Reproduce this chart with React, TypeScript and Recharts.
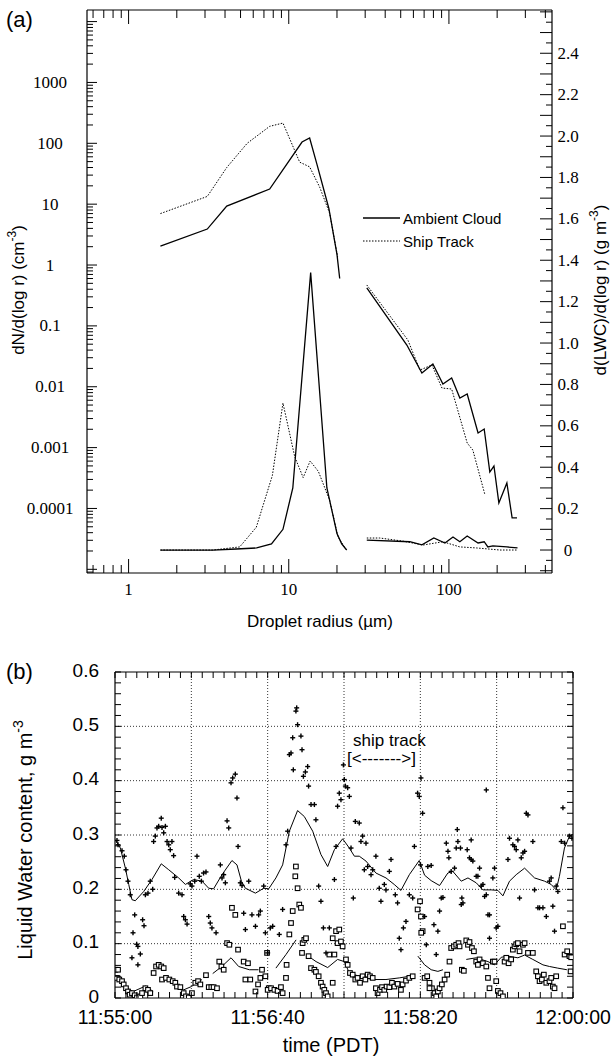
import React from 'react';
import { ComposedChart, Line, Scatter, XAxis, YAxis, ReferenceLine } from 'recharts';

const SERIF = '"Liberation Serif", "Times New Roman", "DejaVu Serif", serif';
const SANS = '"Liberation Sans", Arial, Helvetica, sans-serif';

// ---------- Panel (a): droplet radius (µm) ----------
// number distributions dN/d(log r) (cm^-3), left log axis
const ambientN: [number, number][] = [
  [1.58, 2.05], [3.1, 3.9], [4.1, 9.3], [7.6, 17.7], [12.1, 105], [13.5, 122],
  [15.0, 45], [17.8, 8.5], [20.0, 1.5], [20.8, 0.6],
];
const shipN: [number, number][] = [
  [1.58, 7.0], [3.1, 13.4], [4.1, 40], [5.5, 100], [7.6, 190], [9.2, 215],
  [11.7, 49], [13.5, 41], [15.6, 19], [18.0, 7.1], [20.2, 1.35],
];
const ambientDrizzleN: [number, number][] = [
  [30.7, 0.42], [54.6, 0.0485], [67.8, 0.0168], [79.4, 0.0236], [91.7, 0.0111],
  [104, 0.0139], [117, 0.00653], [130, 0.0076], [152, 0.00174], [166, 0.00202],
  [180, 0.000397], [191, 0.000498], [205, 0.000123], [230, 0.000262], [248, 0.00007], [266, 0.00007],
];
const shipDrizzleN: [number, number][] = [
  [30.7, 0.47], [55.4, 0.0586], [65.9, 0.0188], [78.3, 0.0228], [90.4, 0.00953],
  [104, 0.00918], [130, 0.00119], [141, 0.000912], [168, 0.000166],
];
// liquid water distributions d(LWC)/d(log r) (g m^-3), right linear axis
const ambientLWC: [number, number][] = [
  [1.58, 0], [3.35, 0], [4.7, 0.005], [6.3, 0.01], [7.8, 0.03], [9.2, 0.1], [10.6, 0.3],
  [13.7, 1.34], [17.3, 0.3], [18.6, 0.19], [20.0, 0.08], [21.4, 0.03], [23.0, 0],
];
const shipLWC: [number, number][] = [
  [1.58, 0], [3.35, 0], [4.94, 0.015], [6.27, 0.11], [7.9, 0.36], [9.2, 0.71], [10.9, 0.45],
  [12.3, 0.35], [13.6, 0.43], [15.3, 0.38], [18.0, 0.24], [20.3, 0.064], [22.9, 0],
];
const ambientDrizzleLWC: [number, number][] = [
  [30.7, 0.048], [57, 0.04], [67.8, 0.025], [80.5, 0.058], [94.4, 0.034], [106, 0.063],
  [117, 0.04], [130, 0.068], [152, 0.034], [166, 0.04], [175, 0.015], [188, 0.02], [230, 0.015], [268, 0.01],
];
const shipDrizzleLWC: [number, number][] = [
  [30.7, 0.058], [37, 0.058], [51.6, 0.043], [68.8, 0.024], [91.7, 0.04], [117, 0.015],
  [149, 0.01], [208, 0], [268, 0],
];

const radiusDomain: [number, number] = [0.55, 440];
const numberDomain: [number, number] = [8.7e-6, 15500];
const lwcDomain: [number, number] = [-0.111, 2.609];

const radiusTicks: number[] = [];
for (let e = -1; e <= 2; e++) for (let m = 1; m <= 9; m++) {
  const v = m * Math.pow(10, e);
  if (v >= radiusDomain[0] && v <= radiusDomain[1]) radiusTicks.push(v);
}
const numberTicks: number[] = [];
for (let e = -6; e <= 4; e++) for (let m = 1; m <= 9; m++) {
  const v = m * Math.pow(10, e);
  if (v >= numberDomain[0] && v <= numberDomain[1]) numberTicks.push(v);
}
const lwcTicks: number[] = Array.from({ length: 55 }, (_, i) => ((i - 2) * 5) / 100);

// ---------- Panel (b): seconds after 11:55:00 vs LWC (g m^-3) ----------
const upperLine: [number, number][] = [
  [0.2, 0.291], [3.5, 0.276], [6.8, 0.239], [9, 0.209], [11.1, 0.181], [13.3, 0.179], [18.8, 0.196],
  [24.2, 0.218], [30.3, 0.247], [35.2, 0.236], [41.7, 0.221], [46.1, 0.209], [51.5, 0.218], [57, 0.215],
  [61.4, 0.202], [64.6, 0.201], [70.1, 0.227], [76.6, 0.253], [79.9, 0.245], [82.8, 0.215], [85.4, 0.202],
  [92, 0.193], [97.4, 0.202], [100.7, 0.201], [105.4, 0.221], [109.8, 0.245], [114.2, 0.307], [119.6, 0.345],
  [124, 0.334], [129.5, 0.307], [134.9, 0.264], [139.3, 0.242], [143.7, 0.273], [149.1, 0.293], [153.5, 0.276],
  [156.8, 0.261], [160, 0.261], [164.4, 0.252], [170.9, 0.23], [177.5, 0.221], [182.9, 0.209], [187.3, 0.198],
  [192.8, 0.227], [199.3, 0.253], [202.8, 0.226], [207.1, 0.216], [212.6, 0.207], [218, 0.23], [221.3, 0.233],
  [226.8, 0.215], [231.2, 0.221], [236.6, 0.212], [241, 0.199], [246.4, 0.199], [250.8, 0.198], [254.1, 0.188],
  [258.4, 0.215], [262.8, 0.227], [268.3, 0.239], [274.8, 0.221], [281.4, 0.215], [285.7, 0.209], [289, 0.199],
  [291.1, 0.224], [294.4, 0.276], [297.7, 0.298], [299.9, 0.301],
];
const lowerSegA: [number, number][] = [[8, 0.018], [12, 0.012], [20, 0.022], [25, 0.012]];
const lowerSegB: [number, number][] = [[37, 0.028], [45, 0.015], [50, 0.021], [57, 0.034]];
const lowerSegC: [number, number][] = [[64, 0.045], [70, 0.058], [76, 0.074], [81, 0.058], [88, 0.052], [94, 0.052]];
const lowerSegD: [number, number][] = [[105.4, 0.055], [112, 0.08], [118.6, 0.107]];
const lowerSegE: [number, number][] = [
  [125.1, 0.08], [131.7, 0.067], [139.3, 0.056], [145.8, 0.071], [150.2, 0.067], [153.5, 0.046],
  [160, 0.04], [168.8, 0.034], [177.5, 0.034], [186.2, 0.037], [192.8, 0.04],
];
const lowerSegF: [number, number][] = [[198.4, 0.077], [202.8, 0.061], [207.1, 0.052], [211.5, 0.049], [214.8, 0.052]];
const lowerSegG: [number, number][] = [
  [230.1, 0.071], [236.6, 0.074], [244.3, 0.067], [248.6, 0.061], [253, 0.075], [257.4, 0.077],
  [263.9, 0.074], [268.3, 0.079], [273.7, 0.071], [280.3, 0.061], [284.6, 0.058], [290, 0.055], [296, 0.052],
];

const crossPoints: [number, number][] = [
  [1.3, 0.29], [2, 0.282], [4.6, 0.271], [6.1, 0.261], [7.2, 0.236], [8.5, 0.215], [10, 0.19], [11.8, 0.12],
  [12.9, 0.153], [14.2, 0.099], [15, 0.095], [11.1, 0.074], [15, 0.061], [16.6, 0.081], [18.1, 0.144], [19, 0.133],
  [19.9, 0.19], [21.6, 0.193], [23.1, 0.215], [24.7, 0.2], [25.3, 0.288], [26.4, 0.298], [27.5, 0.313], [28.6, 0.316],
  [30.3, 0.331], [30.8, 0.314], [31.9, 0.304], [33, 0.316], [34.1, 0.288], [35.2, 0.282], [36.2, 0.273], [37.3, 0.288],
  [38.4, 0.262], [39.1, 0.222], [41.7, 0.193], [43.9, 0.19], [45, 0.15], [46.1, 0.144], [47.2, 0.136], [49.3, 0.21],
  [50.4, 0.206], [52.2, 0.215], [53.7, 0.261], [55.2, 0.224], [56.6, 0.215], [58, 0.23], [59.6, 0.232], [61.4, 0.15],
  [62.4, 0.138], [63.5, 0.129], [66.2, 0.12], [69, 0.245], [70.1, 0.221], [71.2, 0.227], [72.3, 0.212], [73.4, 0.326],
  [74.5, 0.313], [76, 0.396], [77.1, 0.405], [78.8, 0.412], [79.9, 0.368], [80.6, 0.279], [82.1, 0.212], [83.2, 0.207],
  [84.3, 0.156], [85.4, 0.126], [87.6, 0.215], [89.7, 0.153], [92, 0.132], [94.1, 0.153], [95.2, 0.16], [97.4, 0.206],
  [98.5, 0.12], [101.7, 0.129],
  [100, 0.083], [103.3, 0.132], [107.6, 0.117], [109.8, 0.163], [113.1, 0.307], [112, 0.282], [114.2, 0.448],
  [115.3, 0.451], [116.4, 0.479], [116.8, 0.42], [118.5, 0.528], [119, 0.534], [119.6, 0.503], [121.8, 0.482],
  [122.5, 0.457], [123.4, 0.408], [124.7, 0.416], [126.2, 0.426], [126.8, 0.39], [128.4, 0.356], [130.6, 0.356],
  [131.6, 0.328], [133.4, 0.206], [134.9, 0.178], [136.5, 0.129], [138.2, 0.083], [140.4, 0.129], [143.7, 0.218],
  [144.8, 0.279], [145.8, 0.353], [146.9, 0.377], [148, 0.365], [149.6, 0.429], [150.2, 0.402], [150.9, 0.39],
  [152.4, 0.387], [153.5, 0.371], [154.6, 0.276], [156.1, 0.184], [157.4, 0.325], [160, 0.322], [161.1, 0.288],
  [162.2, 0.298], [163.3, 0.236], [164.4, 0.285], [165.5, 0.242], [167.7, 0.227], [168.8, 0.236], [170.9, 0.261],
  [173.1, 0.202], [174.2, 0.178], [176.4, 0.209], [177.5, 0.199], [179.7, 0.233], [180.8, 0.255], [183.6, 0.19],
  [185.1, 0.175], [186.2, 0.11], [187.3, 0.089], [188.9, 0.129], [190.6, 0.141], [192.8, 0.19], [195, 0.184],
  [196.1, 0.279], [198.2, 0.377], [199.3, 0.371], [200.4, 0.405], [201.5, 0.34],
  [200.1, 0.245], [204.9, 0.242], [207.1, 0.244], [202.8, 0.15], [208.9, 0.135], [211.5, 0.123], [212.6, 0.16],
  [213.7, 0.184], [214.8, 0.185], [217, 0.285], [218.1, 0.27], [218.7, 0.258], [220.2, 0.233], [222.4, 0.239],
  [223.5, 0.276], [224.2, 0.31], [224.6, 0.288], [226.3, 0.276], [226.8, 0.172], [227.9, 0.175], [227.2, 0.184],
  [230.7, 0.273], [232.2, 0.258], [233.3, 0.255], [234.4, 0.252], [233.3, 0.291], [236.6, 0.224], [237.7, 0.224],
  [238.8, 0.239], [239.9, 0.206], [241, 0.209], [242.1, 0.187], [243.2, 0.19], [244.3, 0.153], [245.3, 0.153],
  [245.3, 0.11], [247.5, 0.221], [248.6, 0.239], [249.7, 0.129], [250.8, 0.132], [243.2, 0.383], [257.4, 0.255],
  [258.4, 0.294], [260.6, 0.282], [261.7, 0.279], [262.8, 0.273], [263.9, 0.291], [265, 0.184], [266.1, 0.258],
  [267.2, 0.267], [268.3, 0.27], [269.4, 0.34], [270.5, 0.337], [273.7, 0.288], [274.8, 0.199], [277, 0.166],
  [278.1, 0.166], [280.3, 0.166], [282.5, 0.15], [284.6, 0.215], [286.8, 0.169], [287.9, 0.123], [285.7, 0.221],
  [289, 0.206], [290.1, 0.196], [293.4, 0.35], [292.3, 0.288], [294.5, 0.285], [297.7, 0.298], [299.3, 0.294],
  [203.9, 0.098], [210.4, 0.08],
];

const squarePoints: [number, number][] = [
  [0.2, 0.052], [2, 0.052], [1.3, 0.037], [2.8, 0.034], [4.6, 0.031], [5.7, 0.025], [7.2, 0.018], [8.5, 0.012],
  [9.6, 0.006], [11.1, 0.009], [12.9, 0.005], [14.4, 0.001], [16.6, 0.003], [17.7, 0.009], [19.9, 0.018], [21.6, 0.015],
  [23.1, 0.009], [25.3, 0.046], [26.9, 0.058], [28.6, 0.061], [30.3, 0.058], [31.9, 0.055], [30.8, 0.034], [33.4, 0.037],
  [35.6, 0.034], [37.8, 0.031], [39.5, 0.028], [40.6, 0.021], [42.8, 0.02], [45, 0.009], [46.5, 0.003], [48.3, 0.001],
  [50.4, 0.009], [52.6, 0.028], [54.4, 0.031], [55.9, 0.025], [59.6, 0.042], [61.4, 0.02], [63.1, 0.02], [64.6, 0.02],
  [66.8, 0.018], [68.3, 0.067], [69.7, 0.058], [71.2, 0.052], [73.4, 0.101], [74.9, 0.098], [76.6, 0.166], [78.8, 0.153],
  [80.6, 0.089], [84.3, 0.067], [85.4, 0.034], [87.1, 0.064], [88.6, 0.034], [92, 0.012], [93.7, 0.025], [95.2, 0.037],
  [96.3, 0.052], [98.5, 0.04], [99.6, 0.083], [100.7, 0.018],
  [100, 0.015], [102.2, 0.018], [104.4, 0.015], [106.5, 0.013], [108.7, 0.02], [109.8, 0.009], [112, 0.037],
  [112.4, 0.061], [115.3, 0.138], [114.2, 0.117], [116.4, 0.16], [118.5, 0.242], [118.1, 0.224], [119.6, 0.202],
  [120.7, 0.172], [121.8, 0.166], [122.9, 0.101], [124, 0.107], [125.1, 0.11], [122.5, 0.083], [126.8, 0.077],
  [128.4, 0.055], [130.6, 0.052], [131.6, 0.048], [133.4, 0.04], [134.9, 0.028], [136, 0.021], [137.1, 0.015],
  [138.2, 0.009], [139.3, 0.003], [142.6, 0.028], [140.4, 0.08], [143.7, 0.08], [142.6, 0.11], [144.8, 0.123],
  [146.9, 0.126], [145.8, 0.101], [148, 0.104], [149.1, 0.095], [151.3, 0.071], [152.4, 0.061], [153.9, 0.046],
  [155.7, 0.043], [157.4, 0.034], [158.9, 0.037], [160.5, 0.028], [162.2, 0.04], [164, 0.034], [165.5, 0.043],
  [167, 0.04], [168.8, 0.037], [170.9, 0.018], [172, 0.009], [173.6, 0.015], [174.9, 0.02], [176.4, 0.015],
  [177.9, 0.021], [179.7, 0.02], [181.4, 0.028], [183, 0.021], [185.1, 0.026], [187.3, 0.015], [188.4, 0.025],
  [190.6, 0.032], [192.8, 0.037], [195, 0.04], [198.2, 0.163], [199.8, 0.178], [201.5, 0.123], [200.4, 0.15],
  [200.6, 0.12], [219.1, 0.067], [220.2, 0.092], [222, 0.095], [223.5, 0.098], [225, 0.101], [225.7, 0.095],
  [227.2, 0.052], [228.5, 0.05], [230.1, 0.106], [231.2, 0.098], [232.2, 0.103], [233.8, 0.092], [235.1, 0.086],
  [236.6, 0.067], [237.7, 0.061], [238.8, 0.071], [241, 0.064], [243.2, 0.058], [244.3, 0.037], [245.3, 0.018],
  [247.5, 0.067], [248.6, 0.067], [249.7, 0.031], [250.8, 0.013], [252.5, 0.009], [254.1, 0.003], [255.2, 0.067],
  [256.3, 0.074], [257.8, 0.064], [259.5, 0.071], [260.6, 0.089], [261.7, 0.095], [262.8, 0.099], [263.9, 0.101],
  [265, 0.086], [267.2, 0.098], [268.3, 0.101], [270.5, 0.083], [273.7, 0.083], [275.9, 0.049], [277, 0.04],
  [278.1, 0.031], [279.6, 0.034], [280.9, 0.043], [282.5, 0.028], [284.6, 0.031], [285.7, 0.037], [286.8, 0.021],
  [287.9, 0.018], [289, 0.04], [293.4, 0.132], [294.5, 0.08], [296.2, 0.086], [297.7, 0.077], [298.8, 0.075],
  [298.4, 0.049], [202.8, 0.037], [204.5, 0.04], [206, 0.028], [207.6, 0.018], [209.3, 0.009], [210.4, 0.003],
  [211.5, 0.012], [212.6, 0.018], [214.1, 0.025], [215.9, 0.034], [217.6, 0.043], [206, 0.018],
];

const timeTicks: number[] = Array.from({ length: 43 }, (_, i) => (i * 50) / 7);
const lwcTicksB: number[] = Array.from({ length: 31 }, (_, i) => i / 50);
const gridTimes = [50, 100, 150, 200, 250];
const gridLwc = [0.1, 0.2, 0.3, 0.4, 0.5];

// ---------- helpers ----------
const toRN = (a: [number, number][]) => a.map(([r, n]) => ({ r, n }));
const toRW = (a: [number, number][]) => a.map(([r, w]) => ({ r, w }));
const toTV = (a: [number, number][]) => a.map(([t, v]) => ({ t, v }));

const isPow10 = (v: number) => Math.abs(Math.log10(v) - Math.round(Math.log10(v))) < 1e-6;
const pad = (n: number) => (n < 10 ? '0' + n : String(n));
const fmtTime = (t: number) => {
  const total = 11 * 3600 + 55 * 60 + Math.round(t);
  const h = Math.floor(total / 3600);
  const m = Math.floor((total % 3600) / 60);
  const s = total % 60;
  return `${h}:${pad(m)}:${pad(s)}`;
};

const serifStyle = { fontFamily: SERIF, fontSize: 17 };
const sansTick = { fontFamily: SANS, fontSize: 19 };

const XLogTickBottom = (p: any) => {
  const { x, y, payload } = p;
  const v = payload.value;
  const major = isPow10(v);
  return (
    <g>
      <line x1={x} y1={y} x2={x} y2={y - (major ? 14 : 8)} stroke="#000" strokeWidth={1} />
      {major && (
        <text x={x} y={y + 16} textAnchor="middle" dominantBaseline="central" style={serifStyle} fill="#000">
          {String(Math.round(v))}
        </text>
      )}
    </g>
  );
};
const XLogTickTop = (p: any) => {
  const { x, y, payload } = p;
  const major = isPow10(payload.value);
  return <line x1={x} y1={y} x2={x} y2={y + (major ? 14 : 8)} stroke="#000" strokeWidth={1} />;
};
const YLogTick = (p: any) => {
  const { x, y, payload } = p;
  const v = payload.value;
  const major = isPow10(v);
  const e = Math.round(Math.log10(v));
  const showLabel = major && e >= -4 && e <= 3;
  const label = e >= 0 ? String(Math.round(v)) : v.toFixed(-e);
  return (
    <g>
      <line x1={x} y1={y} x2={x + (major ? 10 : 6)} y2={y} stroke="#000" strokeWidth={1} />
      {showLabel && (
        <text x={x - 37} y={y} textAnchor="middle" dominantBaseline="central" style={serifStyle} fill="#000">
          {label}
        </text>
      )}
    </g>
  );
};
const YLwcTick = (p: any) => {
  const { x, y, payload } = p;
  const v = payload.value;
  const i = Math.round(v * 20);
  const long = i % 2 === 0;
  const showLabel = i % 4 === 0 && i >= 0 && i <= 48;
  return (
    <g>
      <line x1={x} y1={y} x2={x - (long ? 12 : 6)} y2={y} stroke="#000" strokeWidth={1} />
      {showLabel && (
        <text x={x + 16} y={y} textAnchor="middle" dominantBaseline="central" style={serifStyle} fill="#000">
          {i === 0 ? '0' : v.toFixed(1)}
        </text>
      )}
    </g>
  );
};

const TimeTickBottom = (p: any) => {
  const { x, y, payload } = p;
  const v = payload.value;
  const lab = Math.abs(v / 100 - Math.round(v / 100)) < 1e-6;
  return (
    <g>
      <line x1={x} y1={y} x2={x} y2={y - 6} stroke="#000" strokeWidth={1} />
      {lab && (
        <text x={x} y={y + 19} textAnchor="middle" dominantBaseline="central" style={{ fontFamily: SANS, fontSize: 19.5 }} fill="#000">
          {fmtTime(v)}
        </text>
      )}
    </g>
  );
};
const TimeTickTop = (p: any) => {
  const { x, y } = p;
  return <line x1={x} y1={y} x2={x} y2={y + 6} stroke="#000" strokeWidth={1} />;
};
const LwcTickLeft = (p: any) => {
  const { x, y, payload } = p;
  const v = payload.value;
  const lab = Math.abs(v * 10 - Math.round(v * 10)) < 1e-6;
  return (
    <g>
      <line x1={x} y1={y} x2={x + 6} y2={y} stroke="#000" strokeWidth={1} />
      {lab && (
        <text x={x - 16} y={y - 2} textAnchor="end" dominantBaseline="central" style={sansTick} fill="#000">
          {Math.round(v * 10) === 0 ? '0' : v.toFixed(1)}
        </text>
      )}
    </g>
  );
};
const LwcTickRight = (p: any) => {
  const { x, y } = p;
  return <line x1={x} y1={y} x2={x - 6} y2={y} stroke="#000" strokeWidth={1} />;
};

const CrossShape = (p: any) => {
  const { cx, cy } = p;
  if (cx == null || cy == null) return <g />;
  return (
    <g>
      <line x1={cx - 2.5} y1={cy} x2={cx + 2.5} y2={cy} stroke="#000" strokeWidth={1.4} />
      <line x1={cx} y1={cy - 2.5} x2={cx} y2={cy + 2.5} stroke="#000" strokeWidth={1.4} />
    </g>
  );
};
const SquareShape = (p: any) => {
  const { cx, cy } = p;
  if (cx == null || cy == null) return <g />;
  return <rect x={cx - 2.3} y={cy - 2.3} width={4.6} height={4.6} fill="#fff" stroke="#000" strokeWidth={1.1} />;
};

const axisCommon = {
  tickSize: 0,
  tickMargin: 0,
  interval: 0 as const,
  axisLine: { stroke: '#000', strokeWidth: 1.2 },
  tickLine: false,
  allowDataOverflow: true,
};

const solid = { stroke: '#000', strokeWidth: 1.3 };
const dotted = { stroke: '#000', strokeWidth: 1, strokeDasharray: '1.5 1.5' };

function PanelA() {
  const lineProps = { type: 'linear' as const, dot: false, activeDot: false, isAnimationActive: false };
  return (
    <ComposedChart width={616} height={640} margin={{ top: 5, right: 24, bottom: 37, left: 37 }}>
      <XAxis xAxisId="b" dataKey="r" type="number" scale="log" domain={radiusDomain} ticks={radiusTicks}
        orientation="bottom" height={30} tick={(p: any) => <XLogTickBottom {...p} />} {...axisCommon} />
      <XAxis xAxisId="t" dataKey="r" type="number" scale="log" domain={radiusDomain} ticks={radiusTicks}
        orientation="top" height={5} tick={(p: any) => <XLogTickTop {...p} />} {...axisCommon} />
      <YAxis yAxisId="n" type="number" scale="log" domain={numberDomain} ticks={numberTicks}
        orientation="left" width={50} tick={(p: any) => <YLogTick {...p} />} {...axisCommon} />
      <YAxis yAxisId="w" type="number" domain={lwcDomain} ticks={lwcTicks}
        orientation="right" width={40} tick={(p: any) => <YLwcTick {...p} />} {...axisCommon} />
      <Line xAxisId="b" yAxisId="n" data={toRN(ambientN)} dataKey="n" {...lineProps} {...solid} />
      <Line xAxisId="b" yAxisId="n" data={toRN(shipN)} dataKey="n" {...lineProps} {...dotted} />
      <Line xAxisId="b" yAxisId="n" data={toRN(ambientDrizzleN)} dataKey="n" {...lineProps} {...solid} />
      <Line xAxisId="b" yAxisId="n" data={toRN(shipDrizzleN)} dataKey="n" {...lineProps} {...dotted} />
      <Line xAxisId="b" yAxisId="w" data={toRW(ambientLWC)} dataKey="w" {...lineProps} {...solid} />
      <Line xAxisId="b" yAxisId="w" data={toRW(shipLWC)} dataKey="w" {...lineProps} {...dotted} />
      <Line xAxisId="b" yAxisId="w" data={toRW(ambientDrizzleLWC)} dataKey="w" {...lineProps} {...solid} />
      <Line xAxisId="b" yAxisId="w" data={toRW(shipDrizzleLWC)} dataKey="w" {...lineProps} {...dotted} />
    </ComposedChart>
  );
}

function PanelB() {
  const lineProps = { type: 'linear' as const, dot: false, activeDot: false, isAnimationActive: false, stroke: '#000', strokeWidth: 1 };
  const segs = [lowerSegA, lowerSegB, lowerSegC, lowerSegD, lowerSegE, lowerSegF, lowerSegG];
  return (
    <ComposedChart width={616} height={421} margin={{ top: 20, right: 23, bottom: 23, left: 55 }}>
      <XAxis xAxisId="b" dataKey="t" type="number" domain={[0, 300]} ticks={timeTicks} orientation="bottom"
        height={40} tick={(p: any) => <TimeTickBottom {...p} />} {...axisCommon} />
      <XAxis xAxisId="t" dataKey="t" type="number" domain={[0, 300]} ticks={timeTicks} orientation="top"
        height={12} tick={(p: any) => <TimeTickTop {...p} />} {...axisCommon} />
      <YAxis yAxisId="l" dataKey="v" type="number" domain={[0, 0.6]} ticks={lwcTicksB} orientation="left"
        width={60} tick={(p: any) => <LwcTickLeft {...p} />} {...axisCommon} />
      <YAxis yAxisId="r" dataKey="v" type="number" domain={[0, 0.6]} ticks={lwcTicksB} orientation="right"
        width={20} tick={(p: any) => <LwcTickRight {...p} />} {...axisCommon} />
      {gridLwc.map((g) => (
        <ReferenceLine key={'h' + g} xAxisId="b" yAxisId="l" y={g} stroke="#000" strokeWidth={0.8} strokeDasharray="1 2" />
      ))}
      {gridTimes.map((g) => (
        <ReferenceLine key={'v' + g} xAxisId="b" yAxisId="l" x={g} stroke="#000" strokeWidth={0.8} strokeDasharray="1 2" />
      ))}
      <Line xAxisId="b" yAxisId="l" data={toTV(upperLine)} dataKey="v" {...lineProps} />
      {segs.map((s, i) => (
        <Line key={'s' + i} xAxisId="b" yAxisId="l" data={toTV(s)} dataKey="v" {...lineProps} />
      ))}
      <Scatter xAxisId="b" yAxisId="l" data={toTV(squarePoints)} dataKey="v" shape={(p: any) => <SquareShape {...p} />} isAnimationActive={false} />
      <Scatter xAxisId="b" yAxisId="l" data={toTV(crossPoints)} dataKey="v" shape={(p: any) => <CrossShape {...p} />} isAnimationActive={false} />
    </ComposedChart>
  );
}

function Overlay() {
  return (
    <svg width={616} height={1061} style={{ position: 'absolute', left: 0, top: 0, pointerEvents: 'none' }}>
      <g style={{ fontFamily: SANS }} fill="#000">
        <text x={6} y={27} fontSize={22}>(a)</text>
        <text transform="translate(18,290) rotate(-90)" textAnchor="middle" dominantBaseline="central" fontSize={17}>
          dN/d(log r) (cm<tspan dy={-6} fontSize={12}>-3</tspan><tspan dy={6}>)</tspan>
        </text>
        <text transform="translate(600,290) rotate(-90)" textAnchor="middle" dominantBaseline="central" fontSize={17}>
          d(LWC)/d(log r) (g m<tspan dy={-6} fontSize={12}>-3</tspan><tspan dy={6}>)</tspan>
        </text>
        <text x={320} y={621} textAnchor="middle" dominantBaseline="central" fontSize={17}>Droplet radius (µm)</text>
        <line x1={363} y1={218} x2={400} y2={218} stroke="#000" strokeWidth={1.3} />
        <text x={403} y={218} dominantBaseline="central" fontSize={15}>Ambient Cloud</text>
        <line x1={363} y1={241} x2={400} y2={241} stroke="#000" strokeWidth={1} strokeDasharray="1.5 1.5" />
        <text x={403} y={241} dominantBaseline="central" fontSize={15}>Ship Track</text>

        <text x={6} y={679} fontSize={22}>(b)</text>
        <text transform="translate(25,840) rotate(-90)" textAnchor="middle" dominantBaseline="central" fontSize={20}>
          Liquid Water content, g m<tspan dy={-7} fontSize={14}>-3</tspan>
        </text>
        <text x={331} y={1045} textAnchor="middle" dominantBaseline="central" fontSize={20}>time (PDT)</text>
        <text x={353} y={740} dominantBaseline="central" fontSize={17}>ship track</text>
        <text x={347} y={758} dominantBaseline="central" fontSize={17} fill="#000">[&lt;-------&gt;]</text>
      </g>
    </svg>
  );
}

export default function App() {
  return (
    <div style={{ position: 'absolute', left: 0, top: 0, width: 616, height: 1061, background: '#fff', overflow: 'hidden' }}>
      <div style={{ position: 'absolute', left: 0, top: 0 }}>
        <PanelA />
      </div>
      <div style={{ position: 'absolute', left: 0, top: 640 }}>
        <PanelB />
      </div>
      <Overlay />
    </div>
  );
}
